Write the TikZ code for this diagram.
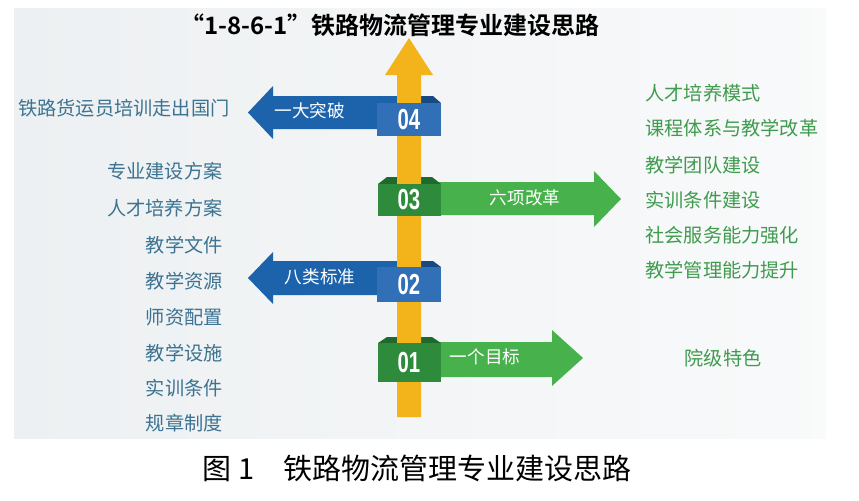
\documentclass[tikz,border=0pt]{standalone}
\usepackage{fontspec}
\setmainfont{Noto Sans CJK SC}[BoldFont={Noto Sans CJK SC Bold}]
\newfontfamily\numfont{Liberation Sans}
\definecolor{railblue}{HTML}{1C63AC}
\definecolor{boxblue}{HTML}{3170B6}
\definecolor{foldblue}{HTML}{174A83}
\definecolor{railgreen}{HTML}{47B24C}
\definecolor{boxgreen}{HTML}{2E8B3B}
\definecolor{foldgreen}{HTML}{1E6A2B}
\definecolor{axisyellow}{HTML}{F3B41B}
\definecolor{listblue}{HTML}{3B7391}
\definecolor{listgreen}{HTML}{3F9B4D}
\definecolor{panelgray}{HTML}{EDF0F2}
\tikzset{
  title/.style={font=\bfseries\fontsize{12}{12}\selectfont, inner sep=0pt},
  caption/.style={font=\fontsize{14.5}{15}\selectfont, inner sep=0pt},
  lefttext/.style={anchor=east, text=listblue, font=\fontsize{9.6}{10}\selectfont, inner sep=0pt},
  righttext/.style={anchor=west, text=listgreen, font=\fontsize{9.6}{10}\selectfont, inner sep=0pt},
  armlabel/.style={text=white, font=\fontsize{8.8}{9}\selectfont, inner sep=0pt},
  numlabel/.style={text=white, font=\numfont\bfseries\fontsize{14.5}{14.5}\selectfont, inner sep=0pt}
}
\newcommand{\narrow}[1]{\scalebox{0.7}[1]{#1}}
\begin{document}
\begin{tikzpicture}[x=0.5pt, y=-0.5pt]
  \useasboundingbox (0,0) rectangle (859,500);
  % panel
  \shade[left color=panelgray, right color=white!65!panelgray] (14,8) rectangle (826,438);
  % arms (behind the axis)
  \fill[railblue] (398,96) -- (273,96) -- (273,86) -- (248,112.5) -- (273,139) -- (273,129) -- (398,129) -- cycle;
  \fill[railblue] (398,261) -- (273,261) -- (273,252) -- (248,278) -- (273,304) -- (273,295) -- (398,295) -- cycle;
  \fill[railgreen] (420,182) -- (594,182) -- (594,171) -- (621,199) -- (594,227) -- (594,215) -- (420,215) -- cycle;
  \fill[railgreen] (420,342) -- (552,342) -- (552,330) -- (583,358) -- (552,386) -- (552,377) -- (420,377) -- cycle;
  % folds
  \fill[foldblue] (421,96) -- (433,96) -- (441,103) -- (421,103) -- cycle;
  \fill[foldblue] (421,261) -- (433,261) -- (441,267) -- (421,267) -- cycle;
  \fill[foldgreen] (378,184) -- (387,177) -- (398,177) -- (398,184) -- cycle;
  \fill[foldgreen] (420,177) -- (432,177) -- (441,184) -- (420,184) -- cycle;
  \fill[foldgreen] (378,343) -- (387,337) -- (398,337) -- (398,343) -- cycle;
  \fill[foldgreen] (420,337) -- (432,337) -- (441,343) -- (420,343) -- cycle;
  % axis
  \fill[axisyellow] (397,417) -- (397,75) -- (385,75) -- (409,38) -- (433,75) -- (421,75) -- (421,417) -- cycle;
  % number boxes
  \fill[boxblue] (377,103) rectangle (441,136);
  \fill[boxblue] (377,267) rectangle (441,302);
  \fill[boxgreen] (378,184) rectangle (441,216);
  \fill[boxgreen] (378,343) rectangle (441,382);
  \node[numlabel] (n4) at (409,119.5) {\narrow{04}};
  \node[numlabel] (n2) at (409,284.5) {\narrow{02}};
  \node[numlabel] (n3) at (409,200) {\narrow{03}};
  \node[numlabel] (n1) at (409,362.5) {\narrow{01}};
  % arm labels
  \node[armlabel] (a4) at (310,111) {一大突破};
  \node[armlabel] (a2) at (320,277) {八类标准};
  \node[armlabel] (a3) at (525,198) {六项改革};
  \node[armlabel] (a1) at (485,357) {一个目标};
  % title and caption
  \node[title] (title) at (390,25) {“1-8-6-1”铁路物流管理专业建设思路};
  \node[caption] (caption) at (417,468) {图 1\quad 铁路物流管理专业建设思路};
  % left side
  \node[anchor=west, text=listblue, font=\fontsize{9.6}{10}\selectfont, inner sep=0pt] (out) at (18,108) {铁路货运员培训走出国门};
  \node[lefttext] (s1) at (223,171) {专业建设方案};
  \node[lefttext] (s2) at (223,208) {人才培养方案};
  \node[lefttext] (s3) at (223,245) {教学文件};
  \node[lefttext] (s4) at (223,281) {教学资源};
  \node[lefttext] (s5) at (223,317) {师资配置};
  \node[lefttext] (s6) at (223,353) {教学设施};
  \node[lefttext] (s7) at (223,388) {实训条件};
  \node[lefttext] (s8) at (223,423) {规章制度};
  % right side
  \node[righttext] (r1) at (645,93) {人才培养模式};
  \node[righttext] (r2) at (645,128) {课程体系与教学改革};
  \node[righttext] (r3) at (645,165) {教学团队建设};
  \node[righttext] (r4) at (645,200) {实训条件建设};
  \node[righttext] (r5) at (645,235) {社会服务能力强化};
  \node[righttext] (r6) at (645,270) {教学管理能力提升};
  \node[text=listgreen, font=\fontsize{9.6}{10}\selectfont, inner sep=0pt] (goal) at (723,358) {院级特色};
\end{tikzpicture}
\end{document}
